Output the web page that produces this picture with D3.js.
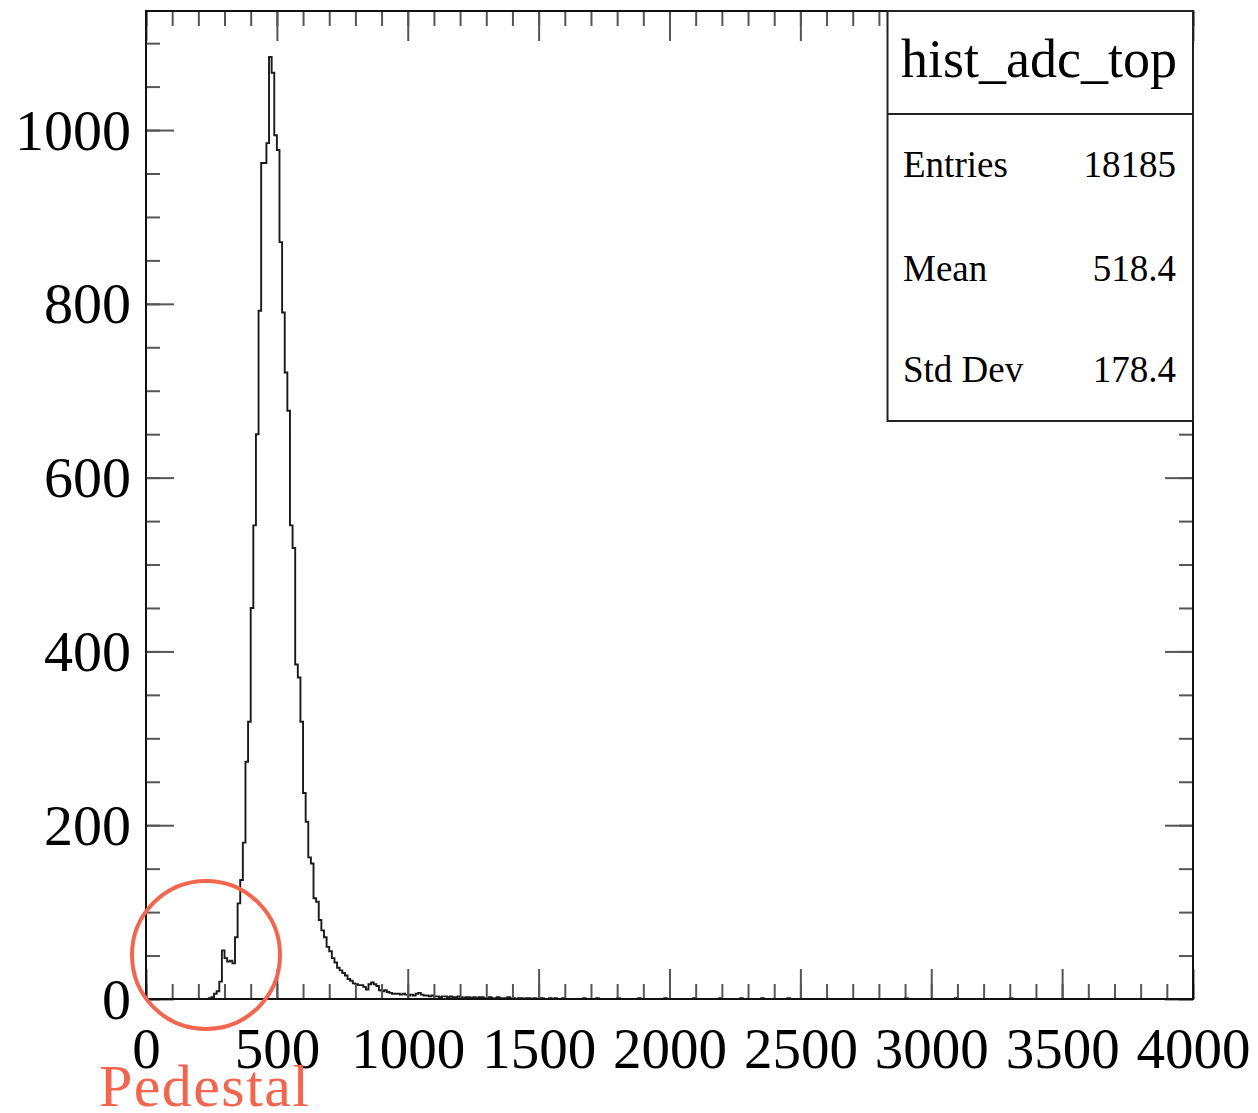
<!DOCTYPE html>
<html>
<head>
<meta charset="utf-8">
<script src="https://cdn.jsdelivr.net/npm/d3@7"></script>
<style>
  html, body { margin: 0; padding: 0; background: #fff; }
  svg { display: block; }
  text { font-family: "Liberation Serif", "Times New Roman", serif; fill: #000; }
</style>
</head>
<body>
<svg id="chart" width="1258" height="1113"></svg>
<script>
// ---- data ----
const histName = "hist_adc_top";
const xRange = [0, 4000];
const binWidth = 10;            // 400 bins of width 10 over 0..4000
const counts = [
  // bins 0-19
  0,0,0,0,0,0,0,0,0,0,0,0,0,0,0,0,0,0,0,0,
  // 20-39
  0,0,0,0,1,2,6,9,20,56,47,43,44,41,71,110,137,180,273,319,
  // 40-59
  450,545,650,792,962,962,985,1084,1066,994,977,871,790,721,677,545,519,385,370,319,
  // 60-79
  237,204,163,156,116,112,91,79,71,60,55,47,42,36,33,30,27,23,21,18,
  // 80-99
  17,16,16,14,11,17,19,17,15,10,9,10,8,7,6,6,6,5,6,5,
  // 100-119
  4,5,4,6,7,5,4,4,3,4,3,3,2,3,3,2,3,2,2,3,
  // 120-139
  2,1,2,2,1,2,1,2,2,1,1,2,1,1,2,1,1,1,2,1,
  // 140-159
  1,0,1,1,0,1,1,0,1,0,1,1,0,0,1,0,1,0,0,1,
  // 160-179
  0,0,0,0,0,0,0,1,0,0,0,0,1,0,0,0,0,0,0,0,
  // 180-199
  1,0,0,0,0,0,0,0,1,0,0,0,0,0,0,0,0,0,1,0,
  // 200-219
  0,0,0,0,0,0,0,0,0,1,0,0,0,0,0,0,0,0,0,1,
  // 220-239
  0,0,0,0,0,0,0,1,0,0,0,0,0,0,0,1,0,0,0,0,
  // 240-259
  0,0,0,0,0,1,0,0,0,0,0,0,0,0,0,0,0,0,0,0,
  // 260-279
  0,0,0,0,0,0,0,0,0,0,0,0,0,0,0,0,0,0,0,0,
  // 280-299
  0,0,0,0,0,0,0,0,0,0,1,0,0,0,0,0,0,0,0,0,
  // 300-319
  0,0,0,0,0,0,0,0,0,1,0,0,0,0,0,0,0,0,0,0,
  // 320-339
  0,0,0,0,0,0,0,0,0,0,1,0,0,0,0,0,0,0,0,0,
  // 340-359
  0,0,0,0,0,0,0,0,0,0,0,0,0,0,0,0,0,0,0,0,
  // 360-379
  0,0,0,0,0,0,0,0,0,0,0,0,0,0,0,0,0,0,0,0,
  // 380-399
  0,0,0,0,0,0,0,0,0,0,0,0,0,0,0,0,0,0,0,0
];
const yMax = 1137;
const xMajorTicks = [0, 500, 1000, 1500, 2000, 2500, 3000, 3500, 4000];
const xMinorTicks = d3.range(0, 4001, 100);
const yMajorTicks = [0, 200, 400, 600, 800, 1000];
const yMinorTicks = d3.range(0, 1137, 50);
const statLabels = ["Entries", "Mean", "Std Dev"];
const statValues = ["18185", "518.4", "178.4"];
const annotationText = "Pedestal";

// ---- layout ----
const L = 146, R = 1193, T = 11, B = 999;
const svg = d3.select("#chart");
const x = d3.scaleLinear().domain(xRange).range([L, R]);
const y = d3.scaleLinear().domain([0, yMax]).range([B, T]);

const tickColor = "#555";

// ---- histogram ----
const pts = [[x(xRange[0]), y(0)]];
counts.forEach((c, i) => {
  const lo = xRange[0] + i * binWidth, hi = lo + binWidth;
  pts.push([x(lo), y(c)], [x(hi), y(c)]);
});
pts.push([x(xRange[1]), y(0)]);
svg.append("path")
  .attr("d", d3.line()(pts))
  .attr("fill", "none")
  .attr("stroke", "#1a1a1a")
  .attr("stroke-width", 1.9)
  .attr("stroke-linejoin", "miter");

// ---- axes (ticks on all sides, inward) ----
function styleAxis(g) {
  g.select(".domain").remove();
  g.selectAll(".tick line").attr("stroke", tickColor).attr("stroke-width", 2);
}
// bottom minor
svg.append("g").attr("transform", `translate(0,${B})`)
  .call(d3.axisBottom(x).tickValues(xMinorTicks).tickSize(-15).tickFormat(""))
  .call(styleAxis);
// bottom major with labels
const gxb = svg.append("g").attr("transform", `translate(0,${B})`)
  .call(d3.axisBottom(x).tickValues(xMajorTicks).tickSize(-30).tickFormat(d3.format("d")))
  .call(styleAxis);
gxb.selectAll("text").attr("y", 69).attr("dy", null)
  .style("font-size", "57px").attr("fill", "#000");
// top minor / major
svg.append("g").attr("transform", `translate(0,${T})`)
  .call(d3.axisTop(x).tickValues(xMinorTicks).tickSize(-15).tickFormat(""))
  .call(styleAxis);
svg.append("g").attr("transform", `translate(0,${T})`)
  .call(d3.axisTop(x).tickValues(xMajorTicks).tickSize(-30).tickFormat(""))
  .call(styleAxis);
// left minor
svg.append("g").attr("transform", `translate(${L},0)`)
  .call(d3.axisLeft(y).tickValues(yMinorTicks).tickSize(-14).tickFormat(""))
  .call(styleAxis);
// left major with labels
const gyl = svg.append("g").attr("transform", `translate(${L},0)`)
  .call(d3.axisLeft(y).tickValues(yMajorTicks).tickSize(-28).tickFormat(d3.format("d")))
  .call(styleAxis);
gyl.selectAll("text").attr("x", -15).attr("dy", "0.33em")
  .style("font-size", "58px").attr("fill", "#000");
// right minor / major
svg.append("g").attr("transform", `translate(${R},0)`)
  .call(d3.axisRight(y).tickValues(yMinorTicks).tickSize(-14).tickFormat(""))
  .call(styleAxis);
svg.append("g").attr("transform", `translate(${R},0)`)
  .call(d3.axisRight(y).tickValues(yMajorTicks).tickSize(-28).tickFormat(""))
  .call(styleAxis);

// ---- frame ----
svg.append("rect")
  .attr("x", L).attr("y", T).attr("width", R - L).attr("height", B - T)
  .attr("fill", "none").attr("stroke", "#111").attr("stroke-width", 2);

// ---- stats box ----
const bx0 = 887.5, bx1 = R, by0 = T, by1 = 421, byDiv = 114;
const sb = svg.append("g");
sb.append("rect").attr("x", bx0).attr("y", by0).attr("width", bx1 - bx0).attr("height", by1 - by0)
  .attr("fill", "#fff").attr("stroke", "#222").attr("stroke-width", 2);
sb.append("line").attr("x1", bx0).attr("x2", bx1).attr("y1", byDiv).attr("y2", byDiv)
  .attr("stroke", "#222").attr("stroke-width", 2);
sb.append("text").attr("x", 1039).attr("y", 77)
  .attr("text-anchor", "middle").style("font-size", "54px").text(histName);
const rowY = [177, 281, 382];
statLabels.forEach((lab, i) => {
  sb.append("text").attr("x", 903).attr("y", rowY[i]).style("font-size", "37px").text(lab);
  sb.append("text").attr("x", 1176).attr("y", rowY[i]).attr("text-anchor", "end")
    .style("font-size", "37px").text(statValues[i]);
});

// ---- pedestal annotation ----
const red = "#f2664f";
svg.append("circle").attr("cx", 206).attr("cy", 955).attr("r", 74)
  .attr("fill", "none").attr("stroke", red).attr("stroke-width", 4);
svg.append("text").attr("x", 99).attr("y", 1106)
  .style("font-size", "60px").attr("textLength", 210).style("fill", red).text(annotationText);
</script>
</body>
</html>
